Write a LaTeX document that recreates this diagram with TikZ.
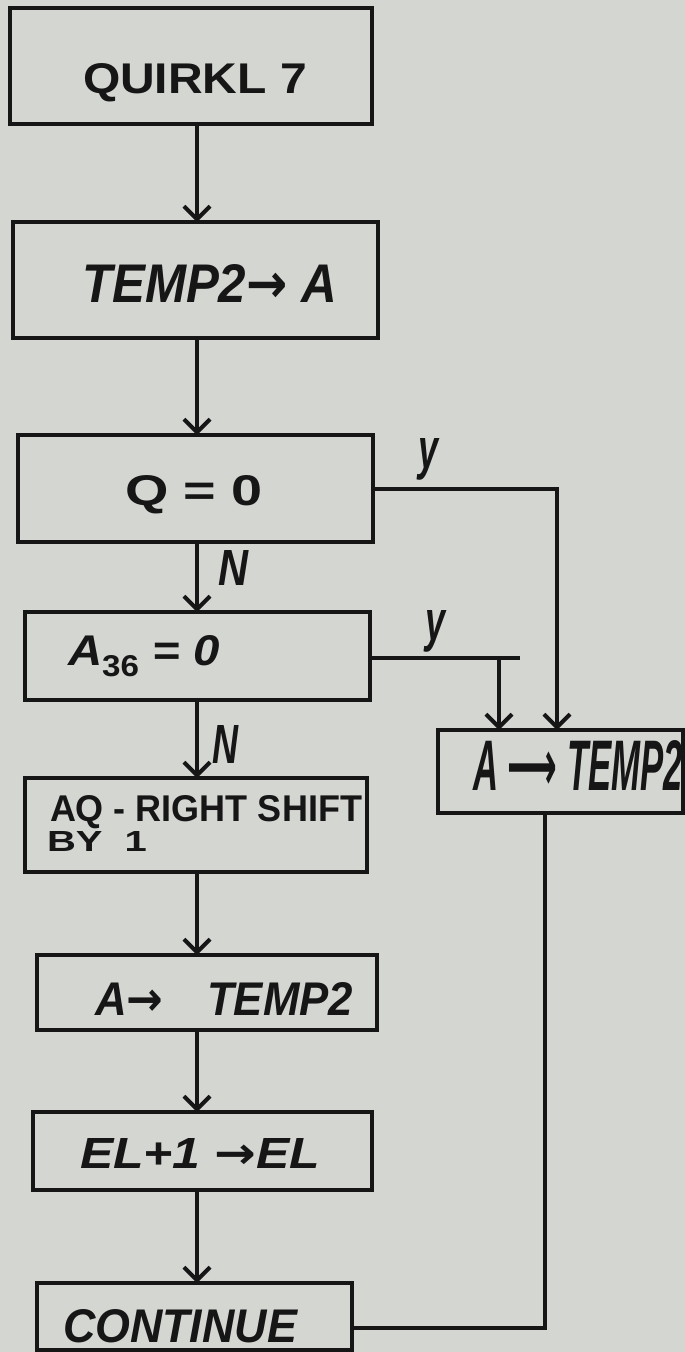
\documentclass[tikz,border=0pt]{standalone}
\usepackage{fontspec}
\setmainfont{Liberation Sans}
\newfontfamily\dvfont{DejaVu Sans}
\usetikzlibrary{arrows.meta}
\definecolor{paper}{RGB}{212,214,210}
\definecolor{ink}{RGB}{22,22,22}
\newcommand{\fitt}[3]{\resizebox{#1pt}{#2pt}{#3}}
\newcommand{\rarr}{{\dvfont\upshape →}}
\newcommand{\lrarr}{{\dvfont\upshape ⟶}}
\begin{document}
\begin{tikzpicture}[x=1pt,y=-1pt,
  font=\fontsize{40}{48}\selectfont\bfseries,
  box/.style={draw=ink, line width=4.5pt, inner sep=0pt, outer sep=0pt},
  txt/.style={inner sep=0pt, outer sep=0pt, anchor=base west, text=ink},
  arr/.style={draw=ink, line width=4pt, -{Straight Barb[length=13pt,width=26pt]}},
  wire/.style={draw=ink, line width=4pt}]
\fill[paper] (0,0) rectangle (685,1352);
\useasboundingbox (0,0) rectangle (685,1352);
% boxes
\node[box, minimum width=362pt, minimum height=116pt] (b1) at (191,66) {};
\node[box, minimum width=365pt, minimum height=116pt] (b2) at (195.5,280) {};
\node[box, minimum width=355pt, minimum height=107pt] (q0) at (195.5,488.5) {};
\node[box, minimum width=345pt, minimum height=88pt] (a36) at (197.5,656) {};
\node[box, minimum width=342pt, minimum height=94pt] (aq) at (196,825) {};
\node[box, minimum width=340pt, minimum height=75pt] (at) at (207,992.5) {};
\node[box, minimum width=339pt, minimum height=78pt] (el) at (202.5,1151) {};
\node[box, minimum width=315pt, minimum height=67pt] (cont) at (194.5,1316.5) {};
\node[box, minimum width=245pt, minimum height=83pt] (rt) at (560.5,771.5) {};
% texts
\node[txt] (t1) at (83,93) {\fitt{224}{30}{QUIRKL 7}};
\node[txt] (t2) at (82,302) {\fitt{255}{38}{\itshape TEMP2\rarr\ A}};
\node[txt] (t3) at (125,505) {\fitt{138}{30}{Q = 0}};
\node[txt] (t4) at (68,665) {\fitt{152}{30}{\itshape A$_{\mathbf{36}}$ = 0}};
\node[txt] (t5) at (50,821) {\fitt{312}{26}{AQ - RIGHT SHIFT}};
\node[txt] (t6) at (47,851) {\fitt{100}{20}{BY\ \ 1}};
\node[txt] (t7) at (95,1015) {\fitt{258}{33}{\itshape A\rarr\quad TEMP2}};
\node[txt] (t8) at (80,1168) {\fitt{240}{30}{\itshape EL+1 \rarr EL}};
\node[txt] (t9) at (63,1342) {\fitt{234}{33}{\itshape CONTINUE}};
\node[txt] (t10) at (473,790) {\fitt{210}{50}{\itshape A \lrarr\ TEMP2}};
% branch labels
\node[txt] (y1) at (418,468) {\fitt{20}{30}{\itshape y}};
\node[txt] (y2) at (425,640) {\fitt{20}{30}{\itshape y}};
\node[txt] (n1) at (218,585) {\fitt{30}{35}{\itshape N}};
\node[txt] (n2) at (212,763) {\fitt{26}{38}{\itshape N}};
% connectors
\coordinate (c) at (197,0);
\draw[arr] (b1.south -| c) -- (b2.north -| c);
\draw[arr] (b2.south -| c) -- (q0.north -| c);
\draw[arr] (q0.south -| c) -- (a36.north -| c);
\draw[arr] (a36.south -| c) -- (aq.north -| c);
\draw[arr] (aq.south -| c) -- (at.north -| c);
\draw[arr] (at.south -| c) -- (el.north -| c);
\draw[arr] (el.south -| c) -- (cont.north -| c);
\coordinate (yr) at (557,0);
\draw[arr] (q0.east) -| (rt.north -| yr);
\coordinate (ye) at (520,658);
\coordinate (yb) at (499,0);
\draw[wire] (a36.east |- ye) -- (ye);
\draw[arr] (yb |- ye) -- (rt.north -| yb);
\coordinate (ret) at (545,1328);
\draw[wire] (rt.south -| ret) -- (ret) -- (cont.east |- ret);
\end{tikzpicture}
\end{document}
